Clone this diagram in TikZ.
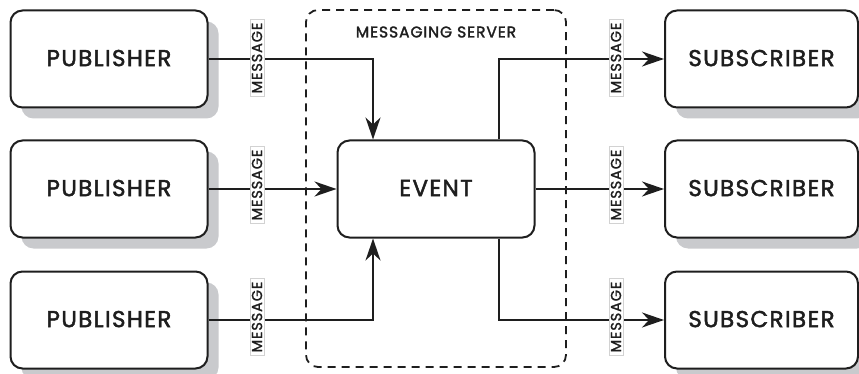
\documentclass[tikz,border=0pt]{standalone}
\usepackage{fontspec}
\setmainfont{Poppins}[FakeBold=2]
\newfontfamily\labelfont{Poppins}[LetterSpace=6, FakeBold=2]
\newfontfamily\tagfont{Poppins}[LetterSpace=6, FakeBold=1.5]
\usetikzlibrary{arrows.meta,shadows}

\definecolor{ink}{HTML}{1E1E1E}
\definecolor{shade}{HTML}{C9CACD}
\definecolor{tagline}{HTML}{D2D2D2}

\begin{document}
\begin{tikzpicture}[x=1pt,y=-1pt,
  box/.style={draw=ink, line width=2pt, rounded corners=12pt, fill=white,
    minimum width=197pt, minimum height=97pt, inner sep=0pt,
    font=\labelfont\fontsize{23}{24}\selectfont, text=ink},
  shadowed/.style={drop shadow={shadow xshift=11pt, shadow yshift=-11pt,
    fill=shade, opacity=1}},
  serverbox/.style={draw=ink, line width=1.8pt, dash pattern=on 8pt off 6pt,
    rounded corners=12pt, minimum width=260pt, minimum height=357pt, inner sep=0pt},
  tag/.style={draw=tagline, line width=0.6pt, fill=white, rotate=90,
    inner xsep=3pt, inner ysep=2pt, text=ink,
    font=\tagfont\fontsize{14.5}{16}\selectfont},
  flow/.style={draw=ink, line width=2pt,
    -{Stealth[length=22pt, width=15pt, inset=7pt]}},
  heading/.style={font=\labelfont\fontsize{15.5}{17}\selectfont, text=ink}
]
\useasboundingbox (0,0) rectangle (859,374);

% messaging server boundary
\node[serverbox] (srv) at (436,188.5) {};
\node[heading] (srvtitle) at (436,32) {MESSAGING SERVER};

% publishers
\node[box, shadowed] (p1) at (109,59)  {\raisebox{2pt}{PUBLISHER}};
\node[box, shadowed] (p2) at (109,189) {\raisebox{2pt}{PUBLISHER}};
\node[box, shadowed] (p3) at (109,320) {\raisebox{2pt}{PUBLISHER}};

% subscribers
\node[box, shadowed, minimum width=193pt] (s1) at (761.5,59)  {\raisebox{2pt}{SUBSCRIBER}};
\node[box, shadowed, minimum width=193pt] (s2) at (761.5,189) {\raisebox{2pt}{SUBSCRIBER}};
\node[box, shadowed, minimum width=193pt] (s3) at (761.5,320) {\raisebox{2pt}{SUBSCRIBER}};

% central event
\node[box] (ev) at (436,189) {\raisebox{2pt}{EVENT}};

% incoming messages
\draw[flow] (p1.east) -| ([xshift=-63pt]ev.north);
\draw[flow] (p2.east) -- (ev.west);
\draw[flow] (p3.east) -| ([xshift=-63pt]ev.south);

% outgoing messages
\draw[flow] ([xshift=63pt]ev.north) |- (s1.west);
\draw[flow] (ev.east) -- (s2.west);
\draw[flow] ([xshift=63pt]ev.south) |- (s3.west);

% message tags on the connectors
\node[tag] (m1) at (257,58)  {MESSAGE};
\node[tag] (m2) at (257,185) {MESSAGE};
\node[tag] (m3) at (257,317) {MESSAGE};
\node[tag] (m4) at (616,58)  {MESSAGE};
\node[tag] (m5) at (616,185) {MESSAGE};
\node[tag] (m6) at (616,317) {MESSAGE};
\end{tikzpicture}
\end{document}
